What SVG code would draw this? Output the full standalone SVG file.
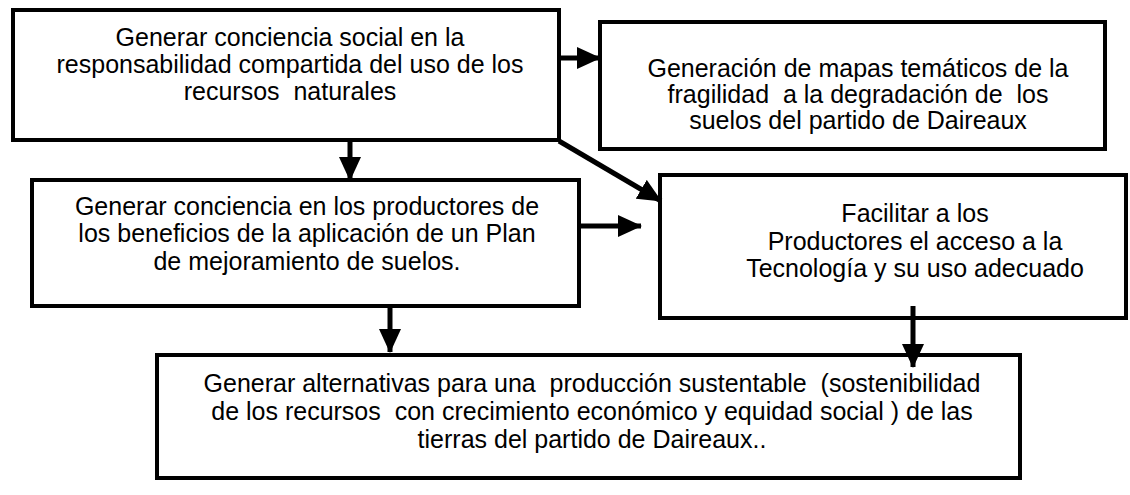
<svg xmlns="http://www.w3.org/2000/svg" width="1130" height="495" viewBox="0 0 1130 495">
<style>
.box{fill:#fff;stroke:#000;stroke-width:4}
.t{font-family:"Liberation Sans",Arial,sans-serif;font-size:25px;fill:#000;text-anchor:middle;white-space:pre}
.c{stroke:#000;stroke-width:5;fill:none}
</style>
<defs>
<marker id="ah" markerUnits="userSpaceOnUse" markerWidth="24" markerHeight="22" refX="23" refY="11" orient="auto">
<path d="M0,0 L24,11 L0,22 z" fill="#000"/>
</marker>
</defs>
<rect width="1130" height="495" fill="#fff"/>
<g id="n1">
<rect class="box" x="13" y="10" width="546" height="130"/>
<text class="t" x="290" y="46" xml:space="preserve">Generar conciencia social en la</text>
<text class="t" x="290" y="73" xml:space="preserve">responsabilidad compartida del uso de los</text>
<text class="t" x="290" y="100" xml:space="preserve">recursos  naturales</text>
</g>
<g id="n2">
<rect class="box" x="600" y="22" width="505" height="127"/>
<text class="t" x="858" y="77" xml:space="preserve">Generación de mapas temáticos de la</text>
<text class="t" x="858" y="103" xml:space="preserve">fragilidad  a la degradación de  los</text>
<text class="t" x="858" y="129" xml:space="preserve">suelos del partido de Daireaux</text>
</g>
<g id="n3">
<rect class="box" x="32" y="180" width="547" height="126"/>
<text class="t" x="307" y="215" xml:space="preserve">Generar conciencia en los productores de</text>
<text class="t" x="307" y="242" xml:space="preserve">los beneficios de la aplicación de un Plan</text>
<text class="t" x="307" y="270" xml:space="preserve">de mejoramiento de suelos.</text>
</g>
<g id="n4">
<rect class="box" x="660" y="175" width="466" height="143"/>
<text class="t" x="915" y="222" xml:space="preserve">Facilitar a los</text>
<text class="t" x="915" y="250" xml:space="preserve">Productores el acceso a la</text>
<text class="t" x="915" y="277" xml:space="preserve">Tecnología y su uso adecuado</text>
</g>
<g id="n5">
<rect class="box" x="157" y="355" width="863" height="123"/>
<text class="t" x="592" y="392" xml:space="preserve">Generar alternativas para una  producción sustentable  (sostenibilidad</text>
<text class="t" x="592" y="420" xml:space="preserve">de los recursos  con crecimiento económico y equidad social ) de las</text>
<text class="t" x="592" y="448" xml:space="preserve">tierras del partido de Daireaux..</text>
</g>
<g id="connectors">
<line class="c" x1="559" y1="58" x2="600" y2="58" marker-end="url(#ah)"/>
<line class="c" x1="350" y1="140" x2="350" y2="180" marker-end="url(#ah)"/>
<line class="c" x1="559" y1="141" x2="661" y2="201" marker-end="url(#ah)"/>
<line class="c" x1="579" y1="226" x2="641" y2="226" marker-end="url(#ah)"/>
<line class="c" x1="390" y1="306" x2="390" y2="352" marker-end="url(#ah)"/>
<line class="c" x1="913" y1="306" x2="913" y2="367" marker-end="url(#ah)"/>
</g>
</svg>
